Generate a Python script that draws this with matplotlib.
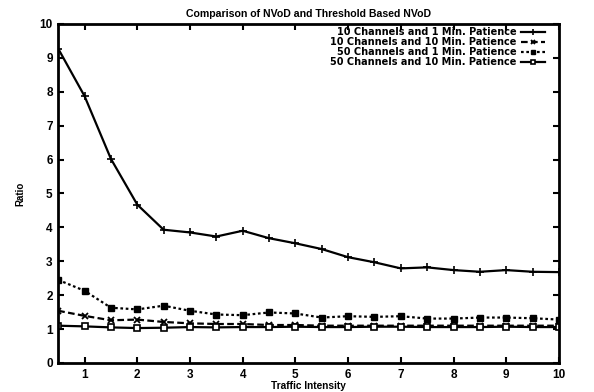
import numpy as np
import matplotlib
matplotlib.use("Agg")
import matplotlib.pyplot as plt

plt.rcParams['font.family'] = ['Liberation Sans', 'DejaVu Sans']
plt.rcParams['font.weight'] = 'bold'

# traffic intensity sample points
traffic = [0.5, 1, 1.5, 2, 2.5, 3, 3.5, 4, 4.5, 5,
           5.5, 6, 6.5, 7, 7.5, 8, 8.5, 9, 9.5, 10]

# ratio of NVoD to threshold based NVoD
ch10_min1 = [9.27, 7.87, 6.02, 4.67, 3.93, 3.85, 3.73, 3.9, 3.68, 3.53,
             3.36, 3.12, 2.97, 2.79, 2.82, 2.74, 2.69, 2.74, 2.69, 2.68]
ch10_min10 = [1.54, 1.39, 1.26, 1.28, 1.21, 1.17, 1.15, 1.15, 1.12, 1.12,
              1.1, 1.1, 1.1, 1.1, 1.1, 1.1, 1.1, 1.1, 1.1, 1.1]
ch50_min1 = [2.45, 2.13, 1.63, 1.58, 1.69, 1.54, 1.43, 1.41, 1.49, 1.46,
             1.34, 1.38, 1.36, 1.38, 1.31, 1.31, 1.34, 1.34, 1.32, 1.28]
ch50_min10 = [1.1, 1.08, 1.05, 1.03, 1.04, 1.06, 1.05, 1.06, 1.06, 1.07,
              1.06, 1.06, 1.07, 1.07, 1.06, 1.06, 1.06, 1.07, 1.06, 1.06]

labels = ['10 Channels and 1 Min. Patience',
          '10 Channels and 10 Min. Patience',
          '50 Channels and 1 Min. Patience',
          '50 Channels and 10 Min. Patience']

fig = plt.figure(figsize=(5.94, 3.92), dpi=100)
ax = fig.add_axes([0.098, 0.074, 0.843, 0.865])

lw = 1.6
ax.plot(traffic, ch10_min1, color='black', lw=lw, ls='-', marker='+', ms=6, mew=1.2, label=labels[0])
ax.plot(traffic, ch10_min10, color='black', lw=lw, ls=(0, (3, 1.5)), marker='x', ms=4, mew=1.3, label=labels[1])
ax.plot(traffic, ch50_min1, color='black', lw=lw, ls=(0, (1.2, 1.2)), marker='s', ms=4, mew=1.0,
        mfc='black', label=labels[2])
ax.plot(traffic, ch50_min10, color='black', lw=lw, ls='-', marker='s', ms=4, mew=1.2,
        mfc='white', label=labels[3])

ax.set_xlim(0.5, 10)
ax.set_ylim(0, 10)
ax.set_xticks(range(1, 11))
ax.set_yticks(range(0, 11))
ax.tick_params(direction='in', top=True, right=True, length=4, width=1.5, labelsize=8.5, pad=4)
for lab in ax.get_xticklabels() + ax.get_yticklabels():
    lab.set_fontweight('bold')
for s in ax.spines.values():
    s.set_linewidth(2)

ax.set_title('Comparison of NVoD and Threshold Based NVoD', fontsize=7.6, fontweight='bold', pad=5)
ax.set_xlabel('Traffic Intensity', fontsize=7.3, fontweight='bold', labelpad=0)
ax.set_ylabel('Ratio', fontsize=7, fontweight='bold', labelpad=10)

ax.legend(loc='upper right', frameon=False, markerfirst=False,
          prop={'family': 'DejaVu Sans', 'weight': 'bold', 'size': 7},
          handlelength=2.4, handletextpad=0.5, labelspacing=0.0,
          borderaxespad=0.3, bbox_to_anchor=(0.985, 1.01), markerscale=0.8)

fig.savefig('out.png', dpi=100)
